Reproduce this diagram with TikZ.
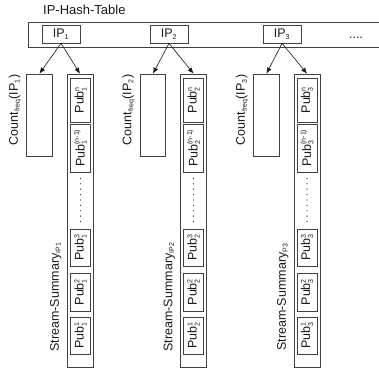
\documentclass[tikz,border=0pt]{standalone}
\usepackage{fontspec}
\setmainfont{Liberation Sans}
\usetikzlibrary{arrows.meta,positioning}
\definecolor{ink}{RGB}{25,25,25}
\definecolor{edge}{RGB}{65,65,65}
\newcommand{\lo}[1]{\ensuremath{_{\mbox{\fontsize{7}{7}\selectfont #1}}}}
\newcommand{\lohi}[2]{\ensuremath{^{\mbox{\fontsize{7}{7}\selectfont #2}}_{\mbox{\fontsize{7}{7}\selectfont #1}}}}

\begin{document}
\begin{tikzpicture}[x=1pt,y=-1pt,font=\fontsize{12.5}{14}\selectfont,
  ipbox/.style={draw=edge,line width=0.7pt,minimum width=38pt,minimum height=18pt,inner sep=0pt,text=ink},
  cnt/.style={draw=edge,line width=0.7pt,minimum width=25.5pt,minimum height=82pt,inner sep=0pt},
  col/.style={draw=edge,line width=0.7pt,minimum width=26pt,minimum height=293pt,inner sep=0pt},
  pub/.style={draw=edge,line width=0.7pt,rotate=90,minimum height=20pt,inner sep=0pt,text=ink},
  lbl/.style={rotate=90,anchor=south,inner sep=1pt,text=ink},
  a/.style={-{Latex[length=6pt,width=5pt]},line width=0.6pt,color=ink},
  ellip/.style={line width=1.4pt,line cap=round,dash pattern=on 0pt off 5.4pt,color=edge}]
  \useasboundingbox (0,0) rectangle (379,373);
  % hash table
  \node[anchor=base west,inner sep=0pt,text=ink,font=\fontsize{13}{15}\selectfont] (title) at (43,14) {IP-Hash-Table};
  \draw[draw=edge,line width=0.7pt] (380,22) -| (28,47) -- (380,47);
  \node[ipbox] (ip1) at (61,34) {IP\lo{1}};
  \node[ipbox] (ip2) at (169,34) {IP\lo{2}};
  \node[ipbox] (ip3) at (282,34) {IP\lo{3}};
  \node[anchor=base,text=ink] (more) at (356,38) {....};

  % IP1
  \node[cnt] (cnt1) at (39.5,115) {};
  \node[col] (col1) at (80,220.5) {};
  \node[pub,minimum width=44pt] (p1n) at (80.5,100) {Pub\lohi{1}{n}};
  \node[pub,minimum width=48pt] (p1m) at (80.5,148) {Pub\lohi{1}{(n-1)}};
  \node[pub,minimum width=37pt] (p13) at (80.5,247.5) {Pub\lohi{1}{3}};
  \node[pub,minimum width=38pt] (p12) at (80.5,292) {Pub\lohi{1}{2}};
  \node[pub,minimum width=37pt] (p11) at (80.5,335.5) {Pub\lohi{1}{1}};
  \draw[ellip] ([yshift=-6pt]p1m.west) -- ([yshift=4pt]p13.east);
  \node[lbl] (c1lbl) at ([xshift=-4pt,yshift=5pt]cnt1.west) {Count\lo{freq}(IP\lo{1})};
  \node[lbl] (s1lbl) at ([xshift=-4pt,yshift=-76.5pt]col1.west) {Stream-Summary\lo{IP1}};
  \draw[a] (ip1.south) -- (cnt1.north);
  \draw[a] (ip1.south) -- (col1.north);

  % IP2
  \node[cnt] (cnt2) at (153,115) {};
  \node[col] (col2) at (193.5,220.5) {};
  \node[pub,minimum width=44pt] (p2n) at (193.5,100) {Pub\lohi{2}{n}};
  \node[pub,minimum width=48pt] (p2m) at (193.5,148) {Pub\lohi{2}{(n-1)}};
  \node[pub,minimum width=37pt] (p23) at (193.5,247.5) {Pub\lohi{2}{3}};
  \node[pub,minimum width=38pt] (p22) at (193.5,292) {Pub\lohi{2}{2}};
  \node[pub,minimum width=37pt] (p21) at (193.5,335.5) {Pub\lohi{2}{1}};
  \draw[ellip] ([yshift=-6pt]p2m.west) -- ([yshift=4pt]p23.east);
  \node[lbl] (c2lbl) at ([xshift=-4pt,yshift=5pt]cnt2.west) {Count\lo{freq}(IP\lo{2})};
  \node[lbl] (s2lbl) at ([xshift=-4pt,yshift=-76.5pt]col2.west) {Stream-Summary\lo{IP2}};
  \draw[a] (ip2.south) -- (cnt2.north);
  \draw[a] (ip2.south) -- (col2.north);

  % IP3
  \node[cnt] (cnt3) at (266.5,115) {};
  \node[col] (col3) at (307,220.5) {};
  \node[pub,minimum width=44pt] (p3n) at (307,100) {Pub\lohi{3}{n}};
  \node[pub,minimum width=48pt] (p3m) at (307,148) {Pub\lohi{3}{(n-1)}};
  \node[pub,minimum width=37pt] (p33) at (307,247.5) {Pub\lohi{3}{3}};
  \node[pub,minimum width=38pt] (p32) at (307,292) {Pub\lohi{3}{2}};
  \node[pub,minimum width=37pt] (p31) at (307,335.5) {Pub\lohi{3}{1}};
  \draw[ellip] ([yshift=-6pt]p3m.west) -- ([yshift=4pt]p33.east);
  \node[lbl] (c3lbl) at ([xshift=-4pt,yshift=5pt]cnt3.west) {Count\lo{freq}(IP\lo{3})};
  \node[lbl] (s3lbl) at ([xshift=-4pt,yshift=-76.5pt]col3.west) {Stream-Summary\lo{P3}};
  \draw[a] (ip3.south) -- (cnt3.north);
  \draw[a] (ip3.south) -- (col3.north);
\end{tikzpicture}
\end{document}
